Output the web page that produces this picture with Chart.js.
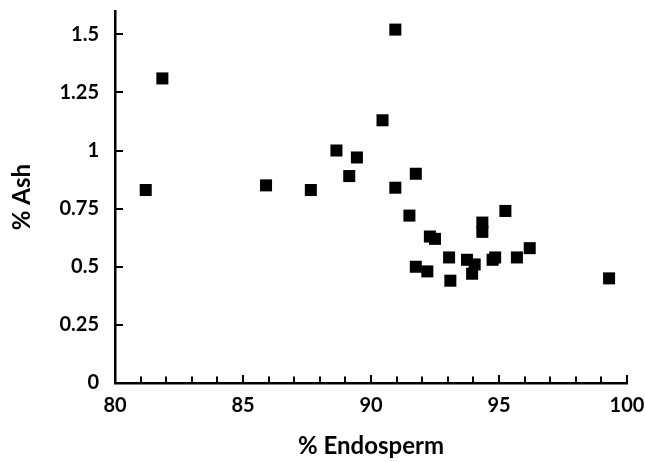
<!DOCTYPE html>
<html>
<head>
<meta charset="utf-8">
<script src="https://cdn.jsdelivr.net/npm/chart.js@4"></script>
<style>
  html, body { margin: 0; padding: 0; background: #fff; }
  #wrap { width: 645px; height: 462px; }
</style>
</head>
<body>
<div id="wrap"><canvas id="chart1"></canvas></div>
<script>
// % Endosperm (x) and % Ash (y)
const endosperm = [81.2, 81.85, 85.9, 87.65, 88.65, 89.15, 89.45, 90.45, 90.95, 90.95,
  91.75, 91.5, 91.75, 92.2, 92.3, 92.5, 93.05, 93.1, 93.75, 93.95,
  94.05, 94.35, 94.35, 94.75, 94.85, 95.25, 95.7, 96.2, 99.3];
const ash = [0.83, 1.31, 0.85, 0.83, 1.0, 0.89, 0.97, 1.13, 1.52, 0.84,
  0.9, 0.72, 0.5, 0.48, 0.63, 0.62, 0.54, 0.44, 0.53, 0.47,
  0.51, 0.69, 0.65, 0.53, 0.54, 0.74, 0.54, 0.58, 0.45];

const xTickLabels = [80, 85, 90, 95, 100];
const yTickLabels = [0, 0.25, 0.5, 0.75, 1, 1.25, 1.5];

const points = endosperm.map(function (x, i) {
  return { x: x, y: ash[i] };
});

const FONT = 'Lato, "Open Sans", sans-serif';

// tick marks drawn inside the plot area (minor every 1 on x)
const innerTicks = {
  id: 'innerTicks',
  afterDraw: function (chart) {
    const c = chart.ctx;
    const xs = chart.scales.x;
    const ys = chart.scales.y;
    const area = chart.chartArea;
    c.save();
    c.strokeStyle = '#000';
    c.lineWidth = 2;
    for (let v = 80; v <= 100; v++) {
      const px = Math.round(xs.getPixelForValue(v));
      const len = v % 5 === 0 ? 8 : 6.5;
      c.beginPath();
      c.moveTo(px, area.bottom);
      c.lineTo(px, area.bottom - len);
      c.stroke();
    }
    yTickLabels.forEach(function (v) {
      const py = Math.round(ys.getPixelForValue(v));
      c.beginPath();
      c.moveTo(area.left, py);
      c.lineTo(area.left + 8, py);
      c.stroke();
    });
    c.restore();
  },
};

function noPad(s) {
  s.paddingTop = 0;
  s.paddingBottom = 0;
  s.paddingLeft = 0;
  s.paddingRight = 0;
}

new Chart(document.getElementById('chart1'), {
  type: 'scatter',
  data: {
    datasets: [{
      data: points,
      pointStyle: 'rect',
      pointRadius: 8.5,
      pointHoverRadius: 8.5,
      pointBorderWidth: 0,
      backgroundColor: '#000',
      borderColor: '#000',
    }],
  },
  plugins: [innerTicks],
  options: {
    responsive: true,
    maintainAspectRatio: false,
    animation: false,
    layout: { padding: { top: 11, right: 18, left: 0, bottom: 0 } },
    plugins: {
      legend: { display: false },
      tooltip: { enabled: false },
    },
    scales: {
      x: {
        type: 'linear',
        min: 80,
        max: 100,
        afterFit: function (s) { s.height = 79; noPad(s); },
        afterBuildTicks: function (s) {
          s.ticks = xTickLabels.map(function (v) { return { value: v }; });
        },
        grid: { display: true, drawOnChartArea: false, drawTicks: false },
        border: { display: true, color: '#000', width: 2.5 },
        ticks: {
          padding: 11,
          color: '#000',
          maxRotation: 0,
          font: { family: FONT, size: 20, weight: 'bold' },
          callback: function (v) { return String(v); },
        },
        title: {
          display: true,
          text: '% Endosperm',
          color: '#000',
          font: { family: FONT, size: 24, weight: 'bold' },
          padding: { top: 0, bottom: 1 },
        },
      },
      y: {
        type: 'linear',
        min: 0,
        max: 1.6,
        afterFit: function (s) { s.width = 115; noPad(s); },
        afterBuildTicks: function (s) {
          s.ticks = yTickLabels.map(function (v) { return { value: v }; });
        },
        grid: { display: true, drawOnChartArea: false, drawTicks: false },
        border: { display: true, color: '#000', width: 2.5 },
        ticks: {
          padding: 16,
          color: '#000',
          font: { family: FONT, size: 20, weight: 'bold' },
          callback: function (v) { return String(v); },
        },
        title: {
          display: true,
          text: '% Ash',
          color: '#000',
          font: { family: FONT, size: 24, weight: 'bold' },
          padding: { top: 8, bottom: 0 },
        },
      },
    },
  },
});
</script>
</body>
</html>
